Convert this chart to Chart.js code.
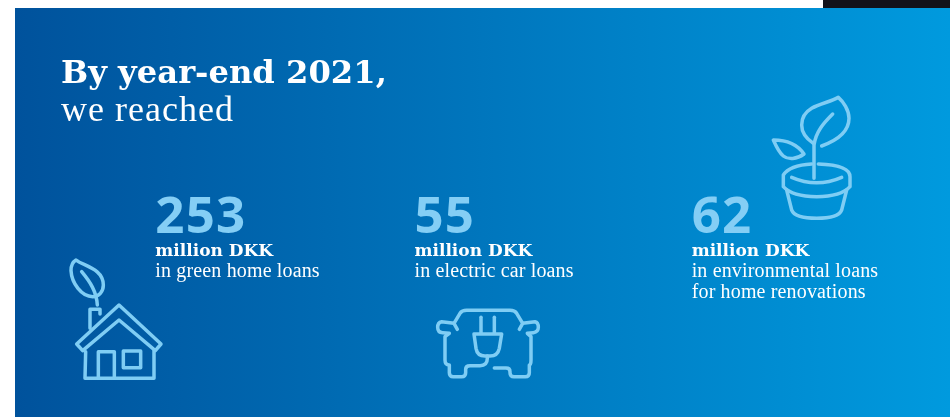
<!DOCTYPE html>
<html><head><meta charset="utf-8">
<style>html,body{margin:0;padding:0;background:#fff}canvas{display:block}</style>
<script src="https://cdn.jsdelivr.net/npm/chart.js@4"></script></head>
<body><canvas id="c" width="950" height="417"></canvas>
<script>
const categories = ['Green home loans', 'Electric car loans', 'Home renovation loans'];
const values = [253, 55, 62];
const unitLabels = ['million DKK', 'million DKK', 'million DKK'];
const descriptions = [['in green home loans'], ['in electric car loans'], ['in environmental loans', 'for home renovations']];
const titleBold = 'By year-end 2021,';
const titleLight = 'we reached';

const ICONS = [
 {ox:50, oy:180, paths:[
  'M207 375L333 492L316 512L207 420L98 512L80 492Z',
  'M107 515L105 595L312 595L312 512',
  'M145 595L145 515L193 515L193 595',
  'M220 513H272V563H220Z',
  'M120 445V388H150V402',
  'M78 240C100 258 160 265 160 315C160 335 147 350 128 350C95 350 65 310 63 272C63 258 68 246 78 240Z',
  'M95 275C120 305 140 335 142 375']},
 {ox:400, oy:180, paths:[
  'M172 448L162 430L125 425Q113 427 113 442Q113 458 128 458L148 460L135 470V540Q135 555 148 555V578Q148 590 160 590H185Q197 590 197 578V568Q197 557 210 557H240Q262 557 262 535V528',
  'M162 430L180 400Q186 391 200 391H330Q344 391 350 400L368 430L358 448',
  'M368 430L405 425Q415 427 415 442Q415 456 400 458L382 460L393 470V540Q393 555 388 555V578Q388 590 376 590H342Q330 590 330 578V575Q330 564 318 564H283',
  'M243 412V458','M283 412V458',
  'M222 462H305L298 505Q293 528 270 528H255Q232 528 228 505Z']},
 {ox:680, oy:0, paths:[
  'M425 438C475 420 507 395 507 355C507 330 490 305 475 292C455 305 420 310 395 325C375 337 365 355 365 375C365 400 385 420 400 430',
  'M402 535V435C408 395 430 370 458 342',
  'M280 420C320 420 350 430 372 462C350 478 325 480 310 468C297 458 288 438 280 420Z',
  'M415 492C470 494 510 505 510 530V560C490 582 450 590 410 590C370 590 330 582 310 560V525C325 502 360 494 395 492',
  'M335 532Q410 565 485 532',
  'M320 570L335 630Q345 655 410 655Q475 655 485 630L500 570']}
];
const NUM_OFFSET = [-3, -60.5, -100];
const FONT = {
 title:'bold 32.2px "DejaVu Serif"', light:'36px "Liberation Serif"',
 num:'bold 51px "Open Sans"', unit:'bold 17px "DejaVu Serif"', desc:'20px "Liberation Serif"'
};
const infographic = {
 id:'infographic',
 beforeDraw(chart){
  const c = chart.ctx, W = chart.width, H = chart.height;
  c.save();
  c.fillStyle='#fff'; c.fillRect(0,0,W,H);
  c.fillStyle='#12121a'; c.fillRect(823,0,W-823,8);
  const g=c.createLinearGradient(15,0,W,0);
  g.addColorStop(0,'#00529c'); g.addColorStop(1,'#009ade');
  c.fillStyle=g; c.fillRect(15,8,W-15,H-8);
  c.restore();
 },
 afterDatasetsDraw(chart){
  const c = chart.ctx, xs = chart.scales.x;
  c.save();
  c.textBaseline='alphabetic'; c.textAlign='left'; c.fillStyle='#fff';
  c.font=FONT.title; c.fillText(titleBold,61,83);
  c.font=FONT.light; c.letterSpacing='1px'; c.fillText(titleLight,61,121);
  values.forEach((v,i)=>{
   const x = xs.getPixelForValue(i)+NUM_OFFSET[i];
   c.fillStyle='#84cef5'; c.font=FONT.num; c.letterSpacing='1.2px'; c.fillText(String(v),x,233);
   c.letterSpacing='0px';
   c.fillStyle='#fff'; c.font=FONT.unit; c.fillText(unitLabels[i],x,256);
   c.font=FONT.desc; c.letterSpacing='0.15px';
   descriptions[i].forEach((t,j)=>c.fillText(t,x,277+j*21));
  });
  c.letterSpacing='0px';
  c.strokeStyle='#7fcdf4'; c.lineWidth=10.5; c.lineJoin='round'; c.lineCap='round';
  ICONS.forEach(ic=>{
   c.save(); c.translate(ic.ox,ic.oy); c.scale(1/3,1/3);
   ic.paths.forEach(p=>c.stroke(new Path2D(p)));
   c.restore();
  });
  c.restore();
 }
};
new Chart(document.getElementById('c'),{
 type:'line',
 data:{labels:categories,datasets:[{label:'Loans (million DKK)',data:values,showLine:false,pointRadius:0}]},
 options:{responsive:false,animation:false,
  layout:{padding:0},
  plugins:{legend:{display:false},tooltip:{enabled:false}},
  scales:{x:{display:false,offset:true},y:{display:false,beginAtZero:true}}},
 plugins:[infographic]
});
</script></body></html>
